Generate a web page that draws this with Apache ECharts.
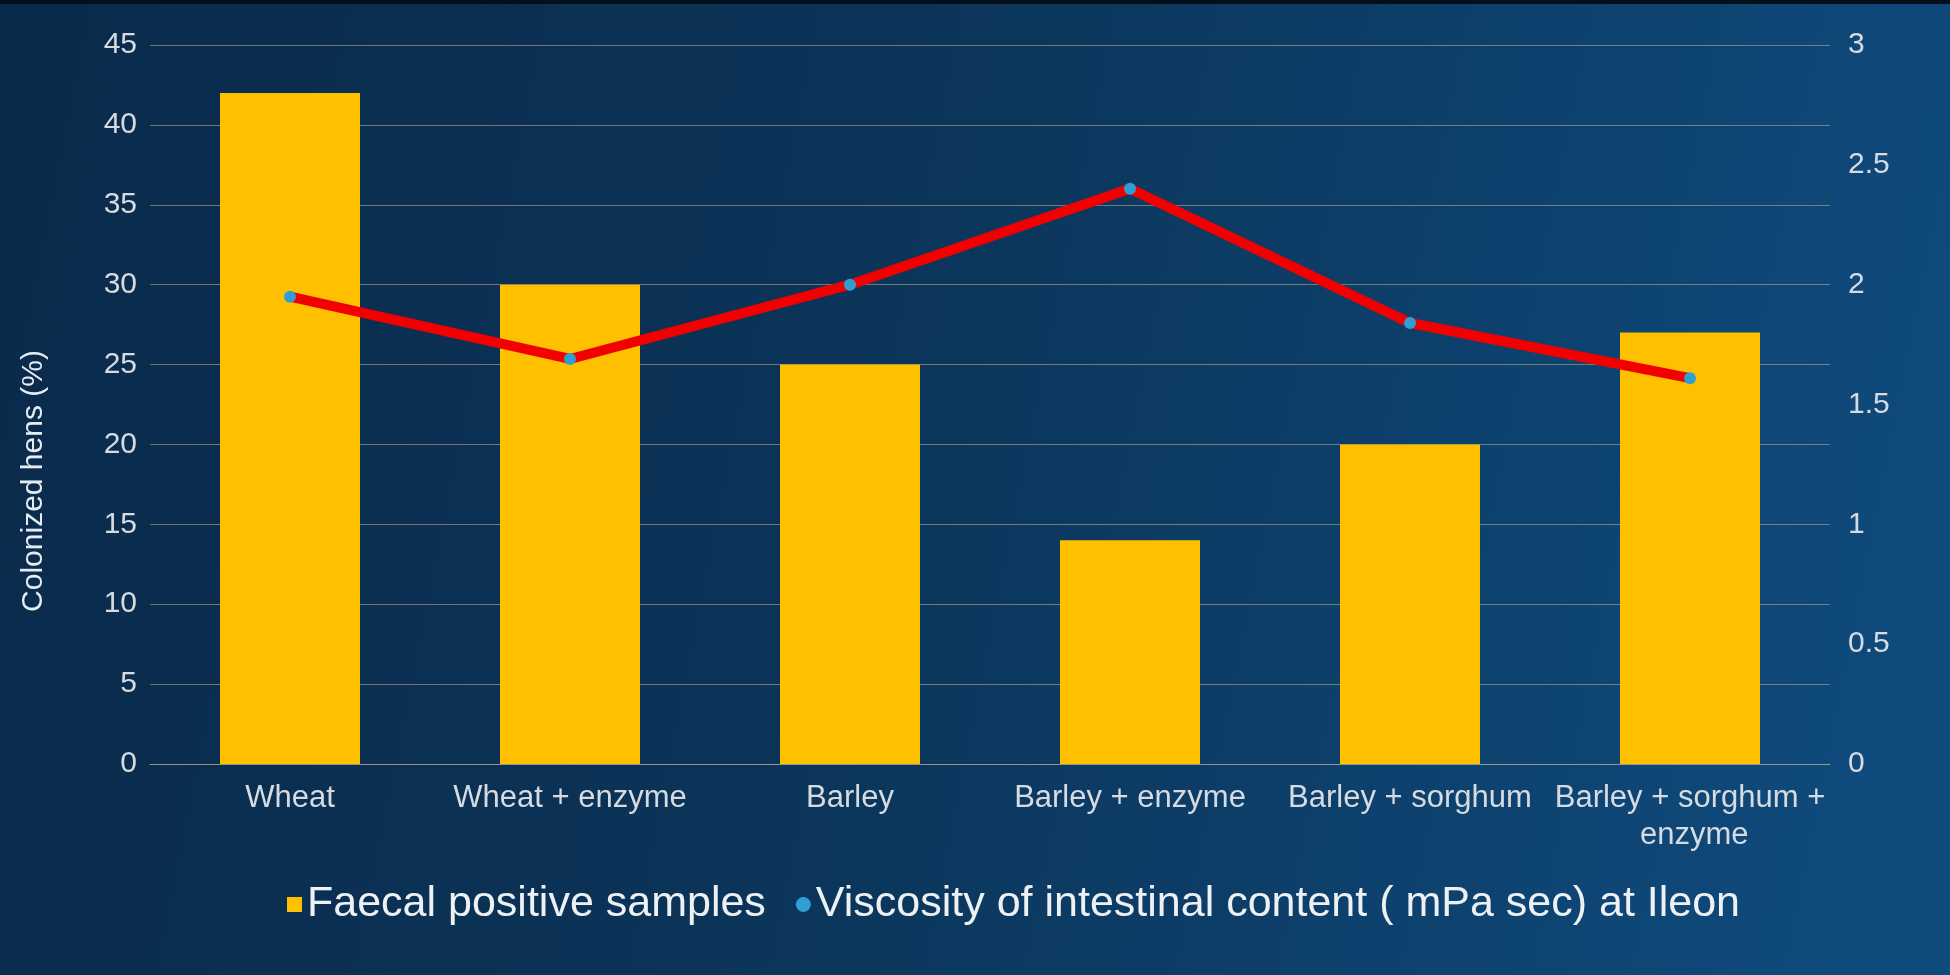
<!DOCTYPE html>
<html>
<head>
<meta charset="utf-8">
<title>Colonized hens and ileal viscosity by diet</title>
<script src="https://cdn.jsdelivr.net/npm/echarts@6/dist/echarts.min.js"></script>
<style>
  html, body { margin: 0; padding: 0; width: 100%; height: 100%; background: #0a2e52; }
  #chart { width: 1950px; height: 975px; }
</style>
</head>
<body>
<div id="chart"></div>
<script>
// Diet groups on the x axis
const diets = ['Wheat', 'Wheat + enzyme', 'Barley', 'Barley + enzyme', 'Barley + sorghum', 'Barley + sorghum + enzyme'];
// Share of hens with faecal positive samples (%)
const faecalPositive = [42, 30, 25, 14, 20, 27];
// Viscosity of intestinal content at the ileon (mPa sec)
const ileonViscosity = [1.95, 1.69, 2.0, 2.4, 1.84, 1.61];

const seriesNames = ['Faecal positive samples', 'Viscosity of intestinal content ( mPa sec) at Ileon'];
const leftAxisTitle = 'Colonized hens (%)';

const chart = echarts.init(document.getElementById('chart'), null, { renderer: 'canvas' });

const fontFamily = '"Liberation Sans", Arial, sans-serif';
const gridColor = 'rgba(175, 170, 135, 0.6)';
const labelColor = '#d6dbe2';

chart.setOption({
  backgroundColor: {
    type: 'linear', x: 0, y: 0, x2: 1, y2: 0.4,
    colorStops: [
      { offset: 0, color: '#0a2a4b' },
      { offset: 0.45, color: '#0b3458' },
      { offset: 1, color: '#0f4a7c' }
    ]
  },
  textStyle: { fontFamily: fontFamily },
  graphic: [
    {
      type: 'rect', left: 0, top: 0,
      shape: { width: 1950, height: 4 },
      style: { fill: '#03101c' }, silent: true
    },
    {
      type: 'text',
      x: 34, y: 481, rotation: Math.PI / 2,
      style: {
        text: leftAxisTitle,
        fill: '#e6ebf0',
        font: '30px ' + fontFamily,
        textAlign: 'center',
        textVerticalAlign: 'middle'
      },
      silent: true
    }
  ],
  grid: { left: 150, right: 120, top: 45, bottom: 211, containLabel: false },
  legend: {
    top: 878,
    left: 282,
    itemGap: 30,
    textStyle: { color: '#eef1f4', fontSize: 43, fontFamily: fontFamily },
    data: [
      { name: seriesNames[0], icon: 'rect', itemWidth: 15, itemHeight: 15 },
      { name: seriesNames[1], icon: 'circle', itemWidth: 14, itemHeight: 14 }
    ],
    itemWidth: 15,
    itemHeight: 15
  },
  xAxis: {
    type: 'category',
    data: diets,
    axisLine: { show: true, lineStyle: { color: gridColor, width: 1 } },
    axisTick: { show: false },
    axisLabel: {
      color: labelColor,
      fontSize: 31,
      margin: 16,
      lineHeight: 37,
      interval: 0,
      width: 278,
      overflow: 'break'
    }
  },
  yAxis: [
    {
      type: 'value',
      min: 0, max: 45, interval: 5,
      axisLine: { show: false },
      axisTick: { show: false },
      axisLabel: { color: labelColor, fontSize: 30, margin: 13 },
      splitLine: { show: true, lineStyle: { color: gridColor, width: 1 } }
    },
    {
      type: 'value',
      min: 0, max: 3, interval: 0.5,
      position: 'right',
      axisLine: { show: false },
      axisTick: { show: false },
      axisLabel: { color: labelColor, fontSize: 30, margin: 18 },
      splitLine: { show: false }
    }
  ],
  series: [
    {
      name: seriesNames[0],
      type: 'bar',
      data: faecalPositive,
      barWidth: '50%',
      itemStyle: { color: '#ffc000' },
      z: 2
    },
    {
      name: seriesNames[1],
      type: 'line',
      yAxisIndex: 1,
      data: ileonViscosity,
      symbol: 'circle',
      symbolSize: 12,
      lineStyle: { color: '#f20000', width: 10 },
      itemStyle: { color: '#2f9fd3', borderWidth: 0 },
      z: 5
    }
  ],
  animation: false
});
</script>
</body>
</html>
